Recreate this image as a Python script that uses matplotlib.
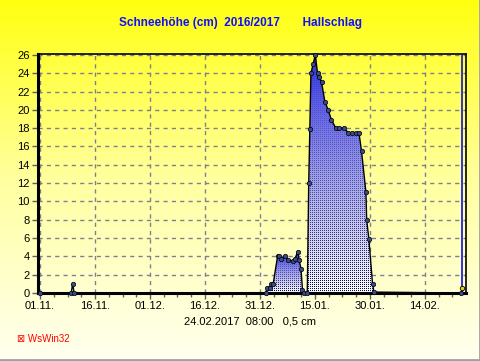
import numpy as np
import matplotlib
matplotlib.use("Agg")
import matplotlib.pyplot as plt
import matplotlib.colors as mcolors
from matplotlib.patches import PathPatch
from matplotlib.path import Path

# -----------------------------------------------------------------
# data: day offset from 01.11.2016 and snow depth in cm

days = [0.0, 8.5, 8.9, 9.3,
        61.6, 62.0, 62.7, 63.0, 63.6, 64.8, 65.3, 65.6, 66.8, 67.7, 68.9, 69.5, 70.3, 70.7, 71.2, 71.6, 72.0,
        72.9, 73.3, 73.6, 73.9, 74.5, 75.1, 75.7, 76.2, 76.8, 77.7, 78.6, 79.5, 80.7, 81.6, 82.9, 84.1,
        85.0, 86.2, 87.0, 87.7, 88.9, 89.1, 89.7, 90.7, 91.1, 114.9]
depth = [0.0, 0.0, 1.0, 0.0,
         0.0, 0.6, 0.6, 1.0, 1.0, 4.0, 4.0, 3.7, 4.0, 3.6, 3.5, 3.7, 4.5, 3.6, 2.6, 0.3, 0.0,
         0.0, 12.0, 17.9, 24.0, 25.0, 26.0, 24.0, 23.6, 23.0, 20.9, 20.0, 18.9, 18.0, 18.0, 18.0, 17.5,
         17.5, 17.5, 17.5, 15.5, 11.0, 8.0, 5.9, 1.0, 0.1, 0.0]

humps = [(61.5, 72.0), (72.85, 91.2)]   # snow periods that get a gradient fill
lastDay, lastValue = 115.1, 0.5
lastText = "24.02.2017  08:00   0,5 cm"

xticks = [0, 15, 30, 45, 60, 75, 90, 105]
xlabels = ["01.11.", "16.11.", "01.12.", "16.12.", "31.12.", "15.01.", "30.01.", "14.02."]
yticks = list(range(0, 27, 2))

# -----------------------------------------------------------------

W, H, DPI = 481, 361, 100
fig = plt.figure(figsize=(W / DPI, H / DPI), dpi=DPI)

# yellow background gradient over the whole figure
bg = fig.add_axes([0, 0, 1, 1], zorder=-10)
bgcmap = mcolors.LinearSegmentedColormap.from_list("bg", ["#ffff10", "#ffffa0", "#fffff0"])
bg.imshow(np.linspace(0, 1, 256).reshape(-1, 1), cmap=bgcmap, aspect="auto", extent=(0, 1, 0, 1))
bg.set_xlim(0, 1)
bg.set_ylim(0, 1)
bg.axis("off")
# grey frame on right and bottom
bg.plot([0.997, 0.997], [0.003, 1], color="#a0a0a0", lw=2)
bg.plot([0, 0.997], [0.004, 0.004], color="#a0a0a0", lw=2)

x0, x1, y0, y1 = 38 / W, 466 / W, 1 - 293 / H, 1 - 54 / H
ax = fig.add_axes([x0, y0, x1 - x0, y1 - y0])
ax.patch.set_alpha(0)
xmin, xmax, ymin, ymax = -0.55, 116.2, 0, 26.1
ax.set_xlim(xmin, xmax)
ax.set_ylim(ymin, ymax)

d = np.array(days)
v = np.array(depth)

# pixel dimensions of the axes for a dotted texture
npx = int(round((x1 - x0) * W))
npy = int(round((y1 - y0) * H))
gcmap = mcolors.LinearSegmentedColormap.from_list("g", ["#fafaff", "#9c9cf0", "#3232e2"])

for (a, b) in humps:
    m = (d >= a) & (d <= b)
    hx, hy = d[m], v[m]
    top = hy.max()
    # gradient image, relative to this hump's own height
    yy = np.linspace(ymax, ymin, npy)
    frac = np.clip(yy / top, 0, 1)
    rgba = gcmap(frac)[:, None, :].repeat(npx, axis=1)
    # dot texture, strong near the ground and fading towards the top
    dots = np.zeros((npy, npx), bool)
    dots[::2, ::2] = True
    strength = np.clip(1.05 - frac * 1.1, 0.15, 1)[:, None].repeat(npx, axis=1)
    dark = np.array([0.05, 0.05, 0.25])
    for c in range(3):
        layer = rgba[:, :, c]
        layer[dots] = layer[dots] * (1 - strength[dots]) + dark[c] * strength[dots]
    im = ax.imshow(rgba, extent=(xmin, xmax, ymin, ymax), aspect="auto",
                   interpolation="nearest", zorder=2)
    verts = [(hx[0], 0)] + list(zip(hx, hy)) + [(hx[-1], 0), (hx[0], 0)]
    clip = PathPatch(Path(verts), transform=ax.transData, facecolor="none", edgecolor="none")
    ax.add_patch(clip)
    im.set_clip_path(clip)

# outline and markers
ax.plot(d, v, color="black", lw=1.0, zorder=4, clip_on=False)
ax.plot(d, v, "o", ms=3.2, mfc="#3a4a8a", mec="black", mew=0.5, zorder=5, clip_on=False)

# current-time marker
ax.axvline(lastDay, color="#1010e0", lw=1.2, zorder=3)
ax.plot([lastDay], [lastValue], "o", ms=3.2, mfc="#e8d800", mec="black", mew=0.6, zorder=6)

# grid
ax.set_xticks(xticks)
ax.set_xticklabels(xlabels)
ax.set_xticks(np.arange(0, 116, 3.75), minor=True)
ax.set_yticks(yticks)
ax.grid(True, which="major", color="#80808c", ls=(0, (3, 3)), lw=1)
ax.set_axisbelow(True)

for side in ("left", "bottom"):
    ax.spines[side].set_linewidth(2.2)
for side in ("top", "right"):
    ax.spines[side].set_linewidth(1.2)
ax.tick_params(axis="both", which="major", length=4, width=1, labelsize=8, color="#606060", pad=2)
ax.tick_params(axis="x", which="minor", length=3, width=1, color="#606060")
ax.tick_params(axis="x", which="both", top=False)
for lab in ax.get_xticklabels() + ax.get_yticklabels():
    lab.set_family("Liberation Sans")

fig.text(0.5, 1 - 23 / H, "Schneehöhe (cm)  2016/2017       Hallschlag", ha="center", va="center",
         color="#1010ff", fontsize=8.5, fontweight="bold", family="Liberation Sans")
fig.text(250 / W, 1 - 322 / H, lastText, ha="center", va="center", color="black",
         fontsize=8, family="Liberation Sans")
fig.text(17 / W, 1 - 339 / H, "\u22a0 WsWin32", ha="left", va="center", color="#ff0000",
         fontsize=7, family=["Liberation Sans", "DejaVu Sans"])

fig.savefig("out.png", dpi=DPI)
